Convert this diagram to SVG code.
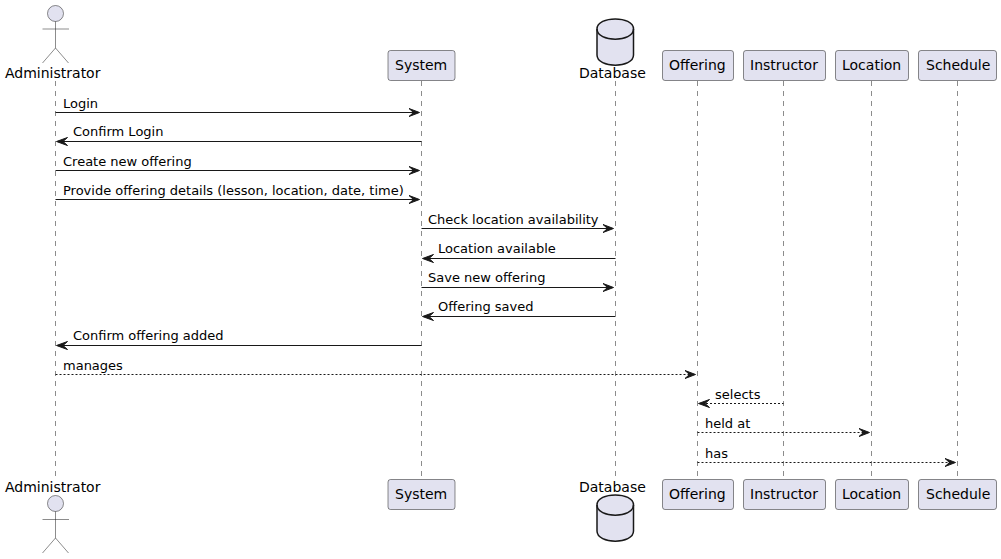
<svg xmlns="http://www.w3.org/2000/svg" width="1001" height="559" viewBox="0 0 1001 559">
<style>
text{font-family:"DejaVu Sans",sans-serif;fill:#000}
.p{font-size:14px}
.m{font-size:13px}
.life{stroke:#181818;stroke-width:.5;stroke-dasharray:5 5;fill:none}
.box{fill:#E2E2F0;stroke:#181818;stroke-width:.5}
.actor{fill:none;stroke:#181818;stroke-width:.5}
.head{fill:#E2E2F0;stroke:#181818;stroke-width:.5}
.db{fill:#E2E2F0;stroke:#181818;stroke-width:1.5}
.dbl{fill:none;stroke:#181818;stroke-width:1.5}
.s{stroke:#181818;stroke-width:1;fill:none}
.d{stroke:#181818;stroke-width:1;fill:none;stroke-dasharray:2 2}
.a{fill:#181818;stroke:#181818;stroke-width:1}
</style>
<g id="connectors">
<line class="life" x1="55.5" y1="81" x2="55.5" y2="478"/>
<line class="life" x1="421.5" y1="81" x2="421.5" y2="478"/>
<line class="life" x1="615.5" y1="81" x2="615.5" y2="478"/>
<line class="life" x1="697.5" y1="81" x2="697.5" y2="478"/>
<line class="life" x1="783.5" y1="81" x2="783.5" y2="478"/>
<line class="life" x1="871.5" y1="81" x2="871.5" y2="478"/>
<line class="life" x1="957.5" y1="81" x2="957.5" y2="478"/>

<line class="s" x1="55.5" y1="112.5" x2="417" y2="112.5"/><path class="a" d="M409 108.500L419.500 112.500L409 116.500L413.500 112.500Z"/>
<text class="m" x="63" y="108">Login</text>
<line class="s" x1="60" y1="141.500" x2="421.500" y2="141.500"/><path class="a" d="M67.500 137.500L56.500 141.500L67.500 145.500L63 141.500Z"/>
<text class="m" x="73" y="136">Confirm Login</text>
<line class="s" x1="55.500" y1="170.500" x2="417" y2="170.500"/><path class="a" d="M409 166.500L419.500 170.500L409 174.500L413.500 170.500Z"/>
<text class="m" x="63" y="166">Create new offering</text>
<line class="s" x1="55.500" y1="199.500" x2="417" y2="199.500"/><path class="a" d="M409 195.500L419.500 199.500L409 203.500L413.500 199.500Z"/>
<text class="m" x="63" y="195">Provide offering details (lesson, location, date, time)</text>
<line class="s" x1="421.500" y1="228.500" x2="611" y2="228.500"/><path class="a" d="M603 224.500L613.500 228.500L603 232.500L607.500 228.500Z"/>
<text class="m" x="428" y="224">Check location availability</text>
<line class="s" x1="426" y1="258.500" x2="615.500" y2="258.500"/><path class="a" d="M433.500 254.500L422.500 258.500L433.500 262.500L429 258.500Z"/>
<text class="m" x="438" y="253">Location available</text>
<line class="s" x1="421.500" y1="287.500" x2="611" y2="287.500"/><path class="a" d="M603 283.500L613.500 287.500L603 291.500L607.500 287.500Z"/>
<text class="m" x="428" y="282">Save new offering</text>
<line class="s" x1="426" y1="316.500" x2="615.500" y2="316.500"/><path class="a" d="M433.500 312.500L422.500 316.500L433.500 320.500L429 316.500Z"/>
<text class="m" x="438" y="311">Offering saved</text>
<line class="s" x1="60" y1="345.500" x2="421.500" y2="345.500"/><path class="a" d="M67.500 341.500L56.500 345.500L67.500 349.500L63 345.500Z"/>
<text class="m" x="73" y="340">Confirm offering added</text>
<line class="d" x1="55.500" y1="374.500" x2="693" y2="374.500"/><path class="a" d="M685 370.500L695.500 374.500L685 378.500L689.500 374.500Z"/>
<text class="m" x="63" y="370">manages</text>
<line class="d" x1="702" y1="403.500" x2="783.500" y2="403.500"/><path class="a" d="M709.500 399.500L698.500 403.500L709.500 407.500L705 403.500Z"/>
<text class="m" x="715" y="399">selects</text>
<line class="d" x1="697.500" y1="432.500" x2="867" y2="432.500"/><path class="a" d="M859 428.500L869.500 432.500L859 436.500L863.500 432.500Z"/>
<text class="m" x="705" y="428">held at</text>
<line class="d" x1="697.500" y1="462.500" x2="953" y2="462.500"/><path class="a" d="M945 458.500L955.500 462.500L945 466.500L949.500 462.500Z"/>
<text class="m" x="705" y="458">has</text>
</g>

<g id="administrator">
<circle class="head" cx="55.500" cy="13.500" r="8"/>
<path class="actor" d="M55.500 21.500V48M42.500 29H69M55.500 48L42.500 63M55.500 48L68.500 63"/>
<text class="p" x="5" y="78">Administrator</text>
<text class="p" x="5" y="492">Administrator</text>
<circle class="head" cx="55.500" cy="503.500" r="8"/>
<path class="actor" d="M55.500 511.500V538M42.500 519.500H69M55.500 538L42.500 553M55.500 538L68.500 553"/>
</g>

<g id="system">
<rect class="box" x="388" y="50.500" width="67" height="30" rx="2.500"/>
<text class="p" x="395" y="70">System</text>
<rect class="box" x="388" y="479.500" width="67" height="30" rx="2.500"/>
<text class="p" x="395" y="499">System</text>
</g>

<g id="database">
<path class="db" d="M597 29C597 15.500 633.500 15.500 633.500 29V55C633.500 68.500 597 68.500 597 55Z"/>
<path class="dbl" d="M597 29C597 42.500 633.500 42.500 633.500 29"/>
<text class="p" x="579" y="78">Database</text>
<text class="p" x="579" y="492">Database</text>
<path class="db" d="M597 505C597 491.500 633.500 491.500 633.500 505V531C633.500 544.500 597 544.500 597 531Z"/>
<path class="dbl" d="M597 505C597 518.500 633.500 518.500 633.500 505"/>
</g>

<g id="offering">
<rect class="box" x="662.500" y="50.500" width="71" height="30" rx="2.500"/>
<text class="p" x="669" y="70">Offering</text>
<rect class="box" x="662.500" y="479.500" width="71" height="30" rx="2.500"/>
<text class="p" x="669" y="499">Offering</text>
</g>

<g id="instructor">
<rect class="box" x="743.500" y="50.500" width="82" height="30" rx="2.500"/>
<text class="p" x="750" y="70">Instructor</text>
<rect class="box" x="743.500" y="479.500" width="82" height="30" rx="2.500"/>
<text class="p" x="750" y="499">Instructor</text>
</g>

<g id="location">
<rect class="box" x="835.500" y="50.500" width="73" height="30" rx="2.500"/>
<text class="p" x="842" y="70">Location</text>
<rect class="box" x="835.500" y="479.500" width="73" height="30" rx="2.500"/>
<text class="p" x="842" y="499">Location</text>
</g>

<g id="schedule">
<rect class="box" x="918.500" y="50.500" width="78" height="30" rx="2.500"/>
<text class="p" x="926" y="70">Schedule</text>
<rect class="box" x="918.500" y="479.500" width="78" height="30" rx="2.500"/>
<text class="p" x="926" y="499">Schedule</text>
</g>
</svg>
